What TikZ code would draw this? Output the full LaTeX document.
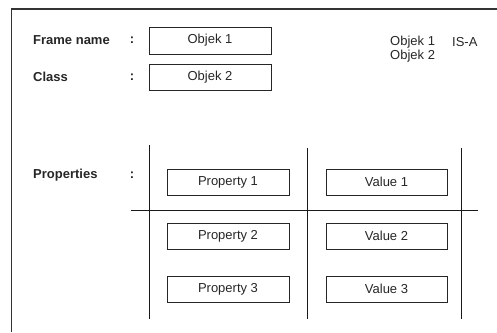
\documentclass[tikz,border=0pt]{standalone}
\usepackage{fontspec}
\setmainfont{Liberation Sans}
\begin{document}
\begin{tikzpicture}[x=1pt,y=-1pt,
  txt/.style={font=\fontsize{13}{14}\selectfont, text=black!85, inner sep=0pt},
  slotbox/.style={txt, draw=black!85, line width=1pt, minimum width=122pt, minimum height=26pt},
  fieldlabel/.style={txt, anchor=west, font=\fontsize{13}{14}\selectfont\bfseries},
  colon/.style={txt, font=\fontsize{13}{14}\selectfont\bfseries},
  frameline/.style={draw=black!80, line width=1.3pt},
  gridline/.style={draw=black!90, line width=1pt}]
\useasboundingbox (0,0) rectangle (497,332);

% outer frame (open at right and bottom)
\draw[frameline] (11.5,332) -- (11.5,9) -- (497,9);

% header fields
\node[fieldlabel] (fnlabel) at (33,40) {Frame name};
\node[colon] (fncolon) at (132,40) {:};
\node[slotbox, minimum height=27pt] (objek1) at (210,40.5) {Objek 1};

\node[fieldlabel] (classlabel) at (33,77) {Class};
\node[colon] (classcolon) at (132,77) {:};
\node[slotbox] (objek2) at (210,77) {Objek 2};

% relation note
\node[txt, anchor=west] (rel1) at (390,42) {Objek 1};
\node[txt, anchor=west] (rel2) at (390,56.5) {Objek 2};
\node[txt, anchor=west] (isa) at (452,42) {IS-A};

% properties table
\node[fieldlabel] (proplabel) at (33,175) {Properties};
\node[colon] (propcolon) at (132,175) {:};

\draw[gridline] (149,145) -- (149,319);
\draw[gridline] (307,148) -- (307,319);
\draw[gridline] (461,148) -- (461,319);
\draw[gridline] (131,210) -- (478,210);

\node[slotbox] (p1) at (228,182) {Property 1};
\node[slotbox] (p2) at (228,236) {Property 2};
\node[slotbox] (p3) at (228,289) {Property 3};

\node[slotbox, minimum width=121pt] (v1) at (386.5,182) {Value 1};
\node[slotbox, minimum width=121pt] (v2) at (386.5,236) {Value 2};
\node[slotbox, minimum width=121pt] (v3) at (386.5,289) {Value 3};
\end{tikzpicture}
\end{document}
